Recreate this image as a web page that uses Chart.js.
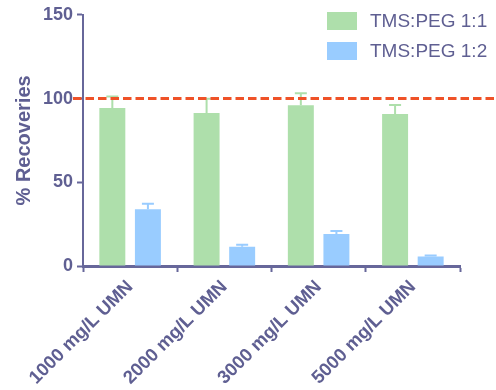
<!DOCTYPE html>
<html>
<head>
<meta charset="utf-8">
<script src="https://cdn.jsdelivr.net/npm/chart.js@4.4.1/dist/chart.umd.min.js"></script>
<style>
  html, body { margin: 0; padding: 0; background: #ffffff; }
  #wrap { width: 496px; height: 390px; position: relative; }
</style>
</head>
<body>
<div id="wrap"><canvas id="chart"></canvas></div>
<script>
// Recovery of UMN at different concentrations, two TMS:PEG ratios
const categories = ['1000 mg/L UMN', '2000 mg/L UMN', '3000 mg/L UMN', '5000 mg/L UMN'];
const seriesNames = ['TMS:PEG 1:1', 'TMS:PEG 1:2'];
const recovery11 = [94.3, 91.3, 96.0, 90.7];
const recovery12 = [33.9, 11.5, 19.1, 5.6];
// upper standard deviation of each mean
const sd11 = [6.9, 8.5, 7.2, 5.5];
const sd12 = [3.2, 1.2, 1.8, 0.6];
const yTicks = [0, 50, 100, 150];
const referenceLevel = 100;

const AXIS = '#67679a';
const TEXT = '#5f5f92';
const GREEN = '#aedfab';
const BLUE = '#99ccff';
const FONT = '"Liberation Sans", Arial, sans-serif';

// Upper-only error bars with caps
const errorBars = {
  id: 'errorBars',
  afterDatasetsDraw(chart) {
    const ctx = chart.ctx;
    const y = chart.scales.y;
    chart.data.datasets.forEach((ds, di) => {
      const meta = chart.getDatasetMeta(di);
      meta.data.forEach((bar, i) => {
        const top = y.getPixelForValue(ds.data[i] + ds.sd[i]);
        const base = y.getPixelForValue(ds.data[i]);
        ctx.save();
        ctx.strokeStyle = ds.backgroundColor;
        ctx.lineWidth = 2;
        ctx.beginPath();
        ctx.moveTo(bar.x, base);
        ctx.lineTo(bar.x, top);
        ctx.moveTo(bar.x - 6, top);
        ctx.lineTo(bar.x + 6, top);
        ctx.stroke();
        ctx.restore();
      });
    });
  }
};

// Dashed 100 % reference line across the plot
const refLine = {
  id: 'refLine',
  afterDraw(chart) {
    const ctx = chart.ctx;
    const py = chart.scales.y.getPixelForValue(referenceLevel);
    ctx.save();
    ctx.strokeStyle = '#ef5228';
    ctx.lineWidth = 3;
    ctx.setLineDash([8.5, 4]);
    ctx.beginPath();
    ctx.moveTo(chart.chartArea.left - 10, py);
    ctx.lineTo(chart.width, py);
    ctx.stroke();
    ctx.restore();
  }
};

// Legend stacked in the upper right corner
const cornerLegend = {
  id: 'cornerLegend',
  afterDraw(chart) {
    const ctx = chart.ctx;
    ctx.save();
    ctx.font = '19px ' + FONT;
    ctx.textBaseline = 'middle';
    ctx.textAlign = 'left';
    chart.data.datasets.forEach((ds, i) => {
      const top = 12 + i * 30;
      ctx.fillStyle = ds.backgroundColor;
      ctx.fillRect(327, top, 30, 18);
      ctx.fillStyle = TEXT;
      ctx.fillText(ds.label, 370, top + 9.5);
    });
    ctx.restore();
  }
};

new Chart(document.getElementById('chart'), {
  type: 'bar',
  data: {
    labels: categories,
    datasets: [
      { label: seriesNames[0], data: recovery11, sd: sd11, backgroundColor: GREEN },
      { label: seriesNames[1], data: recovery12, sd: sd12, backgroundColor: BLUE }
    ]
  },
  options: {
    responsive: true,
    maintainAspectRatio: false,
    animation: false,
    devicePixelRatio: 1,
    categoryPercentage: 0.755,
    barPercentage: 0.73,
    layout: { padding: { top: 5, right: 36, left: 0, bottom: 0 } },
    plugins: {
      legend: { display: false },
      tooltip: { enabled: false }
    },
    scales: {
      x: {
        grid: { display: true, drawOnChartArea: false, drawTicks: true, tickLength: 6, tickColor: AXIS, tickWidth: 2 },
        border: { display: true, color: AXIS, width: 3 },
        ticks: {
          color: TEXT,
          font: { family: FONT, size: 18.5, weight: 'bold' },
          maxRotation: 45, minRotation: 45, padding: 4
        },
        afterFit(scale) { scale.height = 124; }
      },
      y: {
        min: 0, max: 150,
        afterBuildTicks(scale) { scale.ticks = yTicks.map(v => ({ value: v })); },
        grid: { display: true, drawOnChartArea: false, drawTicks: true, tickLength: 6, tickColor: AXIS, tickWidth: 2 },
        border: { display: true, color: AXIS, width: 2 },
        ticks: {
          color: TEXT,
          font: { family: FONT, size: 18, weight: 'bold' },
          padding: 4
        },
        title: {
          display: true, text: '% Recoveries', color: TEXT,
          font: { family: FONT, size: 20, weight: 'bold' },
          padding: { top: 12, bottom: 0 }
        },
        afterFit(scale) { scale.width = 83; }
      }
    }
  },
  plugins: [errorBars, refLine, cornerLegend]
});
</script>
</body>
</html>
